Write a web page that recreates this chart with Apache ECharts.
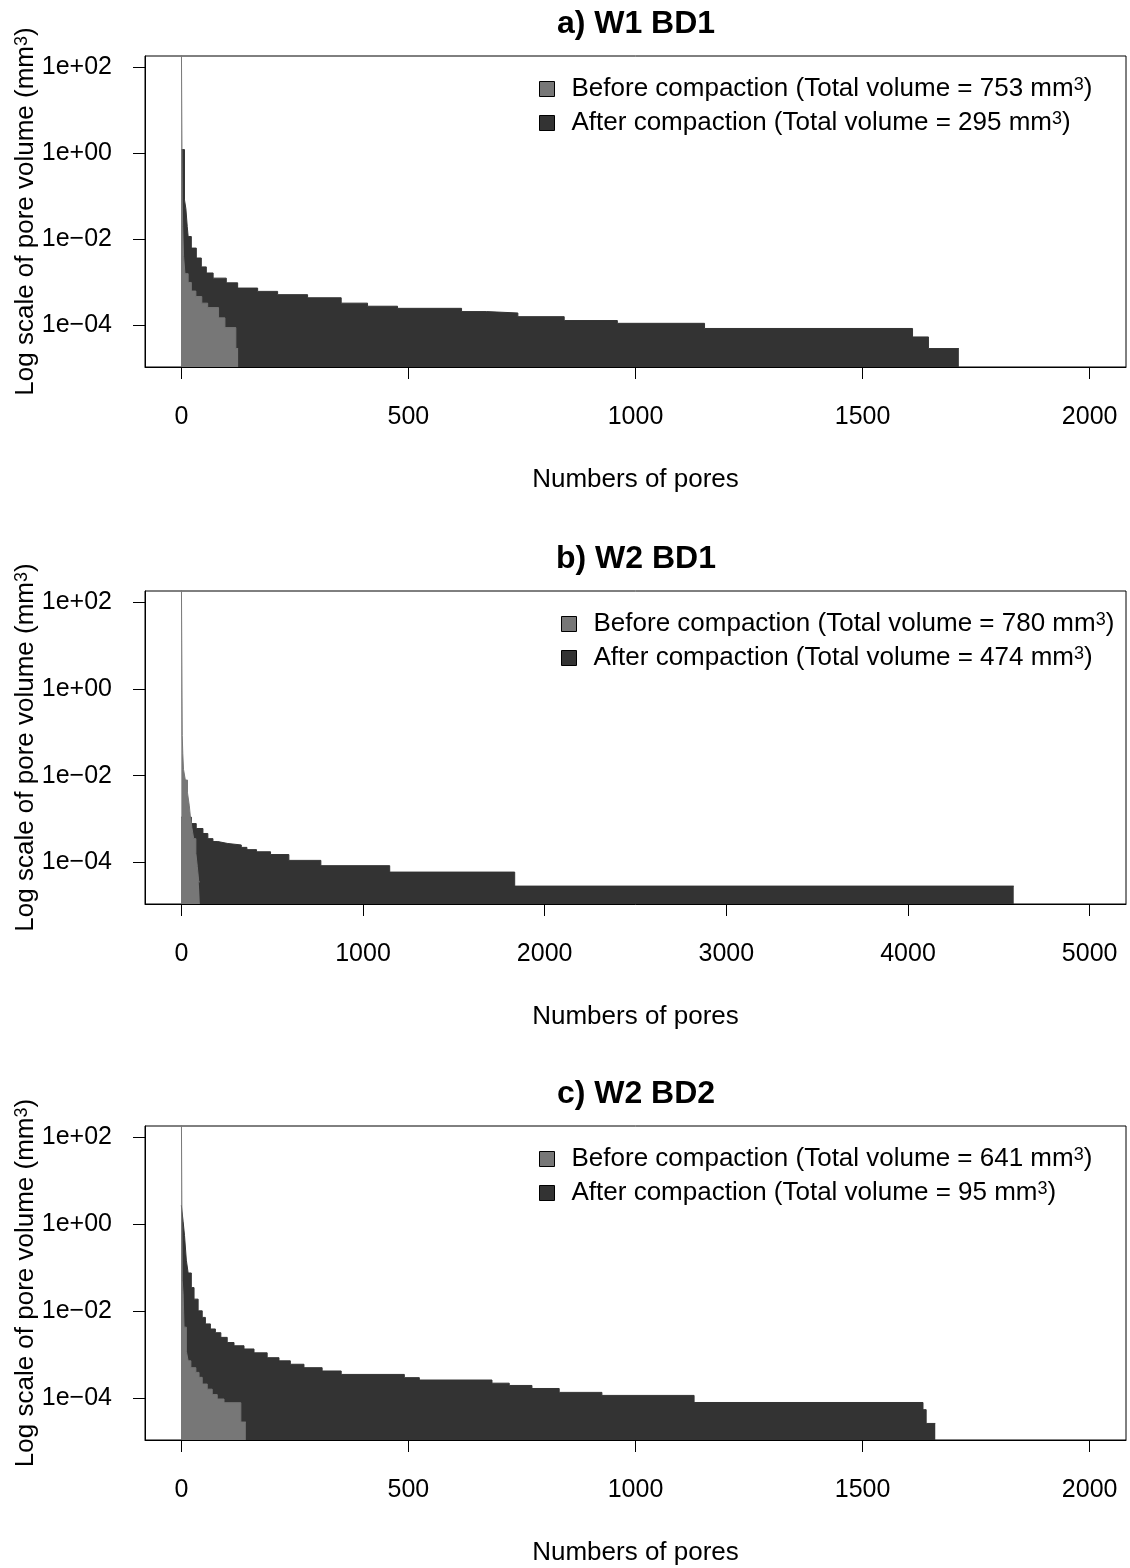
<!DOCTYPE html>
<html>
<head>
<meta charset="utf-8">
<title>Pore volume before / after compaction</title>
<script src="https://cdn.jsdelivr.net/npm/echarts@6/dist/echarts.min.js"></script>
<style>
	html, body { margin: 0; padding: 0; background: #fff; }
	#chart { width: 1130px; height: 1568px; }
</style>
</head>
<body>
<div id="chart"></div>
<script>
// panel titles and total volumes shown in the legends (mm3)
const titles = ["a) W1 BD1", "b) W2 BD1", "c) W2 BD2"];
const totalBefore = [753, 780, 641];
const totalAfter = [295, 474, 95];

// tick values
const xTicksShort = [0, 500, 1000, 1500, 2000];
const xTicksLong = [0, 1000, 2000, 3000, 4000, 5000];
const yTicks = [1e-4, 1e-2, 1, 100];

// sorted pore volumes, stored as runs:
// rank of the last pore in the run, volume (mm3) of the run
const aBeforeRank = [2, 3, 5, 8, 15, 22, 32, 45, 58, 82, 96, 120, 125];
const aBeforeVol = [750, 0.083, 0.02, 0.004, 0.0016, 0.001, 6.3e-4, 4.7e-4, 3.3e-4, 2.6e-4, 1.5e-4, 8.9e-5, 2.9e-5];
const aAfterRank = [7, 10, 13, 15, 22, 33, 44, 55, 70, 99, 124, 168, 212, 278, 352, 410, 476, 617, 672, 741, 843, 960, 1152, 1610, 1645, 1712];
const aAfterVol = [1.23, 0.083, 0.052, 0.02, 0.0117, 0.0063, 0.0037, 0.0023, 0.00166, 0.00126, 9.8e-4, 7.4e-4, 6.2e-4, 5.2e-4, 4.4e-4, 3.3e-4, 2.8e-4, 2.5e-4, 2.1e-4, 1.95e-4, 1.6e-4, 1.3e-4, 1.12e-4, 8.5e-5, 5.4e-5, 2.9e-5];

const bBeforeRank = [5, 8, 12, 22, 34, 44, 50, 58, 68, 80, 88, 96, 102];
const bBeforeVol = [780, 0.085, 0.032, 0.014, 0.0079, 0.004, 0.002, 0.0011, 6.3e-4, 3.5e-4, 1.6e-4, 7.9e-5, 3.5e-5];
const bAfterRank = [55, 82, 119, 146, 174, 201, 256, 330, 361, 414, 491, 592, 768, 1147, 1835, 4582];
const bAfterVol = [1.1e-3, 7.8e-4, 6.0e-4, 4.6e-4, 3.5e-4, 3.0e-4, 2.7e-4, 2.5e-4, 2.2e-4, 1.95e-4, 1.74e-4, 1.5e-4, 1.1e-4, 8.3e-5, 5.9e-5, 2.8e-5];

const cBeforeRank = [2, 4, 6, 11, 15, 21, 32, 39, 46, 57, 68, 79, 94, 131, 142];
const cBeforeVol = [641, 0.05, 0.025, 0.0043, 0.0012, 7.2e-4, 5.0e-4, 3.9e-4, 3.0e-4, 2.1e-4, 1.6e-4, 1.2e-4, 9.5e-5, 7.8e-5, 2.8e-5];
const cAfterRank = [4, 7, 11, 15, 22, 28, 37, 46, 53, 64, 75, 87, 101, 116, 138, 160, 189, 215, 240, 270, 310, 352, 491, 524, 684, 722, 772, 832, 926, 1129, 1633, 1640, 1660];
const cAfterVol = [2.75, 1.15, 0.56, 0.15, 0.076, 0.035, 0.019, 0.0102, 0.0072, 0.0051, 0.0039, 0.0032, 0.0025, 0.0019, 0.0016, 0.00135, 0.0011, 8.5e-4, 7.2e-4, 6.0e-4, 5.0e-4, 4.2e-4, 3.5e-4, 2.95e-4, 2.6e-4, 2.2e-4, 1.95e-4, 1.66e-4, 1.35e-4, 1.15e-4, 7.9e-5, 5.4e-5, 2.6e-5];

const FONT = "'Liberation Sans', Arial, sans-serif";
const GRAY = "#777777";
const DARK = "#333333";

// superscript "3" as rich text fragment
const supStyle = { sup: { fontFamily: FONT, fontSize: 18, color: "#000", verticalAlign: "top", padding: [0, 0, 8, 0] } };
const withSup = (s) => s.replace("\u00b3", "{sup|3}");

// runs -> points for a step line ('end': horizontal first, then down)
function stepPoints(rank, vol) {
	const pts = [[0, vol[0]]];
	for (let i = 1; i < vol.length; i++) {
		pts.push([rank[i - 1], vol[i]]);
	}
	pts.push([rank[rank.length - 1], vol[vol.length - 1]]);
	return pts;
}

// R style log labels: 1e+02, 1e-04 ...
function expLabel(v) {
	const e = Math.round(Math.log10(v));
	return "1e" + (e < 0 ? "\u2212" : "+") + String(Math.abs(e)).padStart(2, "0");
}

const panels = [
	{ top: 56, height: 311, xMax: 2000, ticks: xTicksShort, before: [aBeforeRank, aBeforeVol], after: [aAfterRank, aAfterVol], legendLeft: 539 },
	{ top: 591, height: 313, xMax: 5000, ticks: xTicksLong, before: [bBeforeRank, bBeforeVol], after: [bAfterRank, bAfterVol], legendLeft: 561 },
	{ top: 1126, height: 314, xMax: 2000, ticks: xTicksShort, before: [cBeforeRank, cBeforeVol], after: [cAfterRank, cAfterVol], legendLeft: 539 },
];

const option = {
	animation: false,
	backgroundColor: "#fff",
	textStyle: { fontFamily: FONT, color: "#000" },
	title: [],
	legend: [],
	grid: [],
	xAxis: [],
	yAxis: [],
	series: [],
};

panels.forEach((p, i) => {
	const pad = p.xMax * 0.04;
	const beforeName = "Before compaction (Total volume = " + totalBefore[i] + " mm\u00b3)";
	const afterName = "After compaction (Total volume = " + totalAfter[i] + " mm\u00b3)";

	option.title.push({
		text: titles[i],
		left: 636,
		top: p.top - 48,
		textAlign: "center",
		padding: 0,
		textStyle: { fontFamily: FONT, fontSize: 32, fontWeight: "bold", color: "#000" },
	});

	option.legend.push({
		data: [beforeName, afterName],
		orient: "vertical",
		left: p.legendLeft,
		top: p.top + 20,
		padding: 0,
		itemGap: 8,
		itemWidth: 15,
		itemHeight: 15,
		icon: "rect",
		itemStyle: { borderColor: "#000", borderWidth: 1 },
		selectedMode: false,
		formatter: withSup,
		textStyle: { fontFamily: FONT, fontSize: 26, color: "#000", padding: [0, 0, 0, 12], rich: supStyle },
	});

	option.grid.push({
		left: 145,
		right: 4,
		top: p.top,
		height: p.height,
		outerBoundsMode: "none",
		containLabel: false,
		show: true,
		borderColor: "#000",
		borderWidth: 1,
		backgroundColor: "transparent",
	});

	option.xAxis.push({
		type: "value",
		gridIndex: i,
		min: -pad,
		max: p.xMax + pad,
		z: 5,
		name: "Numbers of pores",
		nameLocation: "middle",
		nameGap: 100,
		nameMoveOverlap: false,
		nameTextStyle: { fontFamily: FONT, fontSize: 26, color: "#000" },
		axisLine: { show: true, onZero: false, lineStyle: { color: "#000", width: 1 } },
		axisTick: { show: true, length: 12, customValues: p.ticks, lineStyle: { color: "#000" } },
		axisLabel: { customValues: p.ticks, margin: 38, fontSize: 25, fontFamily: FONT, color: "#000", formatter: (v) => String(v) },
		splitLine: { show: false },
	});

	option.yAxis.push({
		type: "log",
		logBase: 10,
		gridIndex: i,
		min: 1.08e-5,
		max: 185,
		z: 5,
		name: withSup("Log scale of pore volume (mm\u00b3)"),
		nameLocation: "middle",
		nameGap: 106,
		nameMoveOverlap: false,
		nameTextStyle: { fontFamily: FONT, fontSize: 26, color: "#000", rich: supStyle },
		axisLine: { show: true, onZero: false, lineStyle: { color: "#000", width: 1 } },
		axisTick: { show: true, length: 12, customValues: yTicks, lineStyle: { color: "#000" } },
		axisLabel: { customValues: yTicks, margin: 33, fontSize: 25, fontFamily: FONT, color: "#000", formatter: expLabel },
		splitLine: { show: false },
		minorSplitLine: { show: false },
	});

	// after compaction first, before compaction drawn on top of it
	[[afterName, p.after, DARK, 2], [beforeName, p.before, GRAY, 3]].forEach(([name, runs, color, z]) => {
		option.series.push({
			name: name,
			type: "line",
			xAxisIndex: i,
			yAxisIndex: i,
			z: z,
			step: "end",
			symbol: "none",
			showSymbol: false,
			silent: true,
			clip: true,
			data: stepPoints(runs[0], runs[1]),
			itemStyle: { color: color },
			lineStyle: { color: color, width: 1 },
			areaStyle: { color: color, opacity: 1, origin: "start" },
		});
	});
});

const chart = echarts.init(document.getElementById("chart"), null, { renderer: "canvas" });
chart.setOption(option);
window.addEventListener("resize", () => chart.resize());
</script>
</body>
</html>
